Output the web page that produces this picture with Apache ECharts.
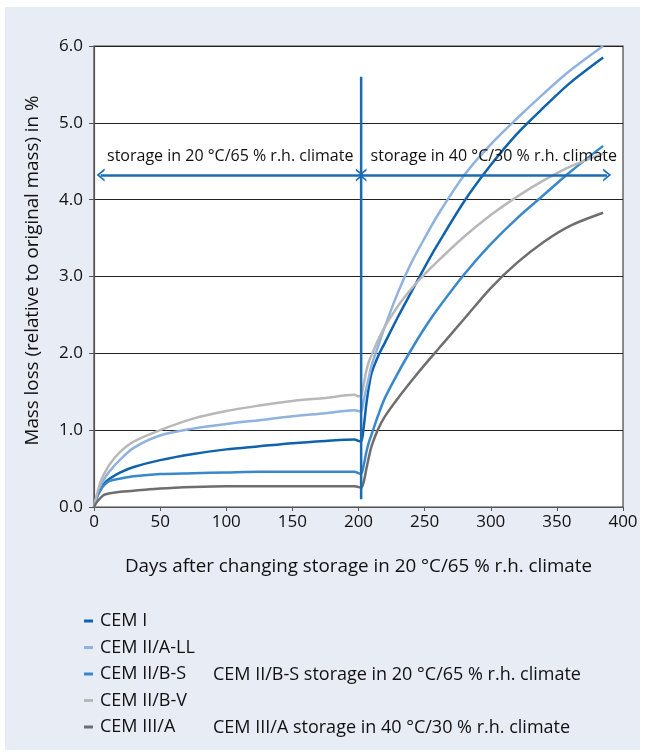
<!DOCTYPE html>
<html><head><meta charset="utf-8">
<script src="https://cdn.jsdelivr.net/npm/echarts@6/dist/echarts.min.js"></script>
<style>
html,body{margin:0;padding:0;background:#fff;}
#bg{position:absolute;left:5px;top:7px;width:635px;height:743px;background:#e8ecf5;}
#c{position:absolute;left:0;top:0;width:645px;height:754px;}
</style>
</head><body><div id="bg"></div><div id="c"></div>
<script>
// Days after changing storage
const days = [0, 2, 5, 8, 12, 20, 30, 50, 75, 100, 125, 150, 175, 197, 200, 202, 204, 206, 208, 210, 215, 220, 230, 240, 250, 260, 280, 300, 320, 340, 360, 385];
// Mass loss in %
const cemI    = [0, 0.12, 0.24, 0.31, 0.37, 0.45, 0.52, 0.61, 0.69, 0.75, 0.79, 0.83, 0.86, 0.88, 0.86, 0.85, 1.05, 1.35, 1.58, 1.75, 1.97, 2.14, 2.48, 2.80, 3.12, 3.42, 3.98, 4.45, 4.86, 5.20, 5.52, 5.85];
const cemIIALL = [0, 0.13, 0.28, 0.37, 0.47, 0.62, 0.77, 0.93, 1.02, 1.08, 1.13, 1.18, 1.22, 1.26, 1.25, 1.24, 1.40, 1.55, 1.70, 1.85, 2.10, 2.35, 2.80, 3.18, 3.50, 3.80, 4.32, 4.72, 5.06, 5.38, 5.68, 6.00];
const cemIIBS = [0, 0.12, 0.22, 0.29, 0.34, 0.37, 0.40, 0.43, 0.44, 0.45, 0.46, 0.46, 0.46, 0.46, 0.44, 0.43, 0.55, 0.72, 0.85, 0.95, 1.20, 1.42, 1.75, 2.05, 2.33, 2.58, 3.03, 3.42, 3.76, 4.06, 4.36, 4.70];
const cemIIBV = [0, 0.15, 0.33, 0.44, 0.56, 0.72, 0.85, 1.00, 1.15, 1.25, 1.32, 1.38, 1.42, 1.46, 1.44, 1.45, 1.60, 1.78, 1.90, 1.98, 2.18, 2.35, 2.62, 2.84, 3.03, 3.20, 3.52, 3.80, 4.04, 4.25, 4.43, 4.60];
const cemIIIA = [0, 0.06, 0.12, 0.16, 0.18, 0.20, 0.21, 0.24, 0.26, 0.27, 0.27, 0.27, 0.27, 0.27, 0.26, 0.25, 0.33, 0.50, 0.66, 0.80, 1.02, 1.18, 1.42, 1.64, 1.85, 2.05, 2.45, 2.85, 3.18, 3.45, 3.66, 3.83];

const seriesNames = ['CEM I', 'CEM II/A-LL', 'CEM II/B-S', 'CEM II/B-V', 'CEM III/A'];
const seriesValues = [cemI, cemIIALL, cemIIBS, cemIIBV, cemIIIA];
const seriesColors = ['#0f63ad', '#8fb2de', '#3a88cc', '#b8b8b8', '#6e6e6e'];

// Annotations
const dividerDay = 202;
const dividerRange = [0.1, 5.6];
const arrowLevel = 4.32;
const leftArrow = [5, 201];
const rightArrow = [203, 388];
const leftArrowText = 'storage in 20 °C/65 % r.h. climate';
const rightArrowText = 'storage in 40 °C/30 % r.h. climate';
const extraLegendTexts = ['CEM II/B-S storage in 20 °C/65 % r.h. climate', 'CEM III/A storage in 40 °C/30 % r.h. climate'];

const FONT = '"Open Sans", "Noto Sans", sans-serif';
const chevron = 'path://M0,10 L5,0 L10,10 L8.4,10 L5,3.2 L1.6,10 Z';

const chart = echarts.init(document.getElementById('c'), null, {renderer: 'canvas'});

const lineSeries = seriesNames.map((name, k) => ({
  name: name,
  type: 'line',
  data: days.map((d, i) => [d, seriesValues[k][i]]),
  showSymbol: false,
  smooth: 0.3,
  lineStyle: {color: seriesColors[k], width: 2.5},
  itemStyle: {color: seriesColors[k]},
  z: 3
}));

const arrowColor = '#1a6db5';
lineSeries.push({
  name: 'divider',
  type: 'line',
  data: [[dividerDay, dividerRange[0]], [dividerDay, dividerRange[1]]],
  showSymbol: false,
  lineStyle: {color: arrowColor, width: 2.5},
  z: 5,
  markLine: {
    silent: true,
    symbol: [chevron, chevron],
    symbolSize: [13, 8],
    lineStyle: {color: arrowColor, width: 2.5, type: 'solid'},
    label: {
      show: true,
      position: 'insideMiddleTop',
      distance: 11,
      color: '#111',
      fontSize: 16,
      fontFamily: FONT
    },
    data: [
      [{coord: [leftArrow[0], arrowLevel], label: {formatter: leftArrowText}}, {coord: [leftArrow[1], arrowLevel]}],
      [{coord: [rightArrow[0], arrowLevel], label: {formatter: rightArrowText, offset: [9, 0]}}, {coord: [rightArrow[1], arrowLevel]}]
    ]
  }
});

chart.setOption({
  animation: false,
  backgroundColor: 'transparent',
  grid: {left: 94, right: 22, top: 46, bottom: 247, show: true, backgroundColor: '#fff', borderColor: '#444', borderWidth: 1.2},
  xAxis: {
    type: 'value', min: 0, max: 400, interval: 50,
    name: 'Days after changing storage in 20 °C/65 % r.h. climate',
    nameLocation: 'middle', nameGap: 50,
    nameTextStyle: {fontSize: 18.8, color: '#111', fontFamily: FONT},
    axisLine: {show: true, lineStyle: {color: '#555', width: 1.2}},
    axisTick: {show: true, length: 4, lineStyle: {color: '#555'}},
    axisLabel: {fontSize: 17, color: '#111', fontFamily: FONT, margin: 7},
    splitLine: {show: false}
  },
  yAxis: {
    type: 'value', min: 0, max: 6, interval: 1,
    name: 'Mass loss (relative to original mass) in %',
    nameLocation: 'middle', nameGap: 52,
    nameTextStyle: {fontSize: 18.8, color: '#111', fontFamily: FONT, padding: [0, 0, 0, 12]},
    axisLine: {show: true, lineStyle: {color: '#555', width: 1.2}},
    axisTick: {show: true, length: 5, lineStyle: {color: '#555'}},
    axisLabel: {fontSize: 17, color: '#111', fontFamily: FONT, margin: 11, formatter: v => v.toFixed(1)},
    splitLine: {show: true, lineStyle: {color: '#222', width: 1.2}}
  },
  legend: {
    data: seriesNames,
    orient: 'vertical',
    left: 84, top: 611, padding: 0,
    itemWidth: 9, itemHeight: 3, itemGap: 6.5,
    icon: 'rect',
    textStyle: {fontSize: 18, color: '#111', fontFamily: FONT, lineHeight: 20, padding: [0, 0, 0, 2]}
  },
  graphic: extraLegendTexts.map((t, i) => ({
    type: 'text', x: 213, y: 675 + i * 53,
    style: {text: t, font: '18px ' + FONT, fill: '#111', verticalAlign: 'middle'}
  })),
  series: lineSeries
});
</script>
</body></html>
